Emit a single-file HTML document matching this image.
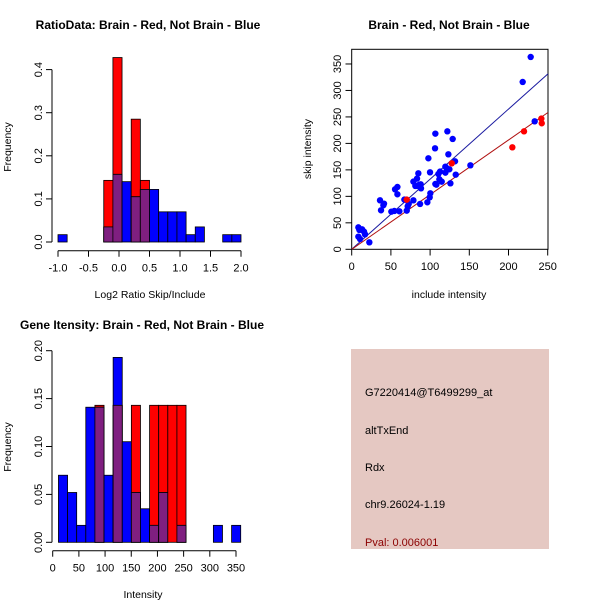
<!DOCTYPE html>
<html><head><meta charset="utf-8"><style>
html,body{margin:0;padding:0;background:#fff;}
svg{display:block;font-family:"Liberation Sans",Arial,sans-serif;}
</style></head><body>
<svg id="c" width="600" height="600" viewBox="0 0 600 600" xmlns="http://www.w3.org/2000/svg">
<rect width="600" height="600" fill="#fff"/>
<g id="p1"></g>
<g id="p2"></g>
<g id="p3"></g>
<g id="p4">
<rect x="351" y="349" width="198" height="200" fill="#e5c8c2"/>
<text x="365" y="396" font-size="11" fill="#000">G7220414@T6499299_at</text>
<text x="365" y="434" font-size="11" fill="#000">altTxEnd</text>
<text x="365" y="471" font-size="11" fill="#000">Rdx</text>
<text x="365" y="508" font-size="11" fill="#000">chr9.26024-1.19</text>
<text x="365" y="546" font-size="11" fill="#8b0000">Pval: 0.006001</text>
</g>
</svg>
<script>
// ---- Plot 1 data: RatioData histogram
const ratioBinStart = -1.0;
const ratioBinWidth = 0.15;
const ratioBlue = [0.017,0,0,0,0,0.035,0.157,0.14,0.105,0.122,0.122,0.07,0.07,0.07,0.017,0.035,0,0,0.017,0.017];
const ratioRed  = [0,0,0,0,0,0.143,0.428,0,0.285,0.143,0,0,0,0,0,0,0,0,0,0];
const ratioXTicks = [-1.0,-0.5,0.0,0.5,1.0,1.5,2.0];
const ratioXTickLabels = ["-1.0","-0.5","0.0","0.5","1.0","1.5","2.0"];
const ratioYTicks = [0,0.1,0.2,0.3,0.4];
const ratioYTickLabels = ["0.0","0.1","0.2","0.3","0.4"];
// ---- Plot 2 data: scatter
const blueInclude = [8.5,9.8,10.6,8.5,13.2,15.7,17.0,22.5,36.1,37.4,40.4,41.2,50.6,54.4,55.3,58.3,58.3,60.8,67.2,70.2,70.2,71.4,72.7,78.7,78.7,81.2,83.3,84.2,85.0,86.3,87.2,88.0,88.4,97.8,99.9,100.3,96.5,99.5,106.3,106.7,106.7,108.0,110.6,111.8,112.7,114.8,119.5,119.5,121.2,122.0,123.3,124.6,125.9,128.8,131.8,132.7,151.4,218.1,228.3,233.4];
const blueSkip = [41.5,36.5,19.5,23.9,37.8,33.4,28.3,13.2,92.5,73.7,83.1,86.2,71.1,72.4,113.3,117.7,103.9,71.8,93.8,93.2,73.0,81.2,85.6,92.5,127.8,119.6,133.5,119.6,143.5,122.1,85.6,122.8,115.2,171.9,145.4,105.8,88.8,98.2,190.7,218.4,123.4,122.1,142.3,132.2,146.7,127.8,156.1,144.8,153.0,222.8,179.4,151.1,124.6,208.4,166.2,141.0,158.6,316.0,363.2,241.7];
const redInclude = [70.2,127.6,204.9,219.8,241.9,242.4];
const redSkip = [93.8,162.4,192.6,222.8,246.8,238.0];
const fitSlopes = [1.324,1.032];
const scatterXTicks = [0,50,100,150,200,250];
const scatterYTicks = [0,50,100,150,200,250,300,350];
// ---- Plot 3 data: intensity histogram
const intBinStart = 11;
const intBinWidth = 17.4;
const intBlue = [0.07,0.052,0.0177,0.141,0.141,0.07,0.193,0.105,0.052,0.035,0.0177,0.052,0,0.0177,0,0,0,0.0177,0,0.0177];
const intRed  = [0,0,0,0,0.143,0,0.143,0,0.143,0,0.143,0.143,0.143,0.143,0,0,0,0,0,0];
const intXTicks = [0,50,100,150,200,250,300,350];
const intYTicks = [0,0.05,0.10,0.15,0.20];
const intYTickLabels = ["0.00","0.05","0.10","0.15","0.20"];

const NS="http://www.w3.org/2000/svg";
function mk(parent,tag,attrs){const e=document.createElementNS(NS,tag);for(const k in attrs)e.setAttribute(k,attrs[k]);parent.appendChild(e);return e;}
function txt(parent,x,y,s,size,opts){const e=mk(parent,'text',{x:x,y:y,'font-size':size,'text-anchor':'middle',fill:'#000'});if(opts&&opts.rot)e.setAttribute('transform','rotate(-90 '+x+' '+y+')');if(opts&&opts.bold)e.setAttribute('font-weight','bold');e.textContent=s;return e;}
const PURPLE="#7f1f80";

function histogram(g,o){
  const sx=v=>o.x0+(v-o.xv0)*o.xs, sy=v=>o.y0-v*o.ys;
  for(let i=0;i<o.blue.length;i++){
    const l=sx(o.bs+i*o.bw), r=sx(o.bs+(i+1)*o.bw);
    const b=o.blue[i], rd=o.red[i];
    if(rd>0){const e=mk(g,'rect',{x:l,y:sy(rd),width:r-l,height:sy(0)-sy(rd),fill:'#ff0000',stroke:'#000','stroke-width':0.8});
      
      }
    if(b>0){const e=mk(g,'rect',{x:l,y:sy(b),width:r-l,height:sy(0)-sy(b),fill:'#0000ff',stroke:'#000','stroke-width':0.8});
      
      }
    const m=Math.min(b,rd);
    if(m>0){const e=mk(g,'rect',{x:l,y:sy(m),width:r-l,height:sy(0)-sy(m),fill:PURPLE,stroke:'#000','stroke-width':0.8});
      
      }
  }
  const ya=mk(g,'g',{});
  
  
  mk(ya,'line',{x1:o.yax,x2:o.yax,y1:sy(o.yt[0]),y2:sy(o.yt[o.yt.length-1]),stroke:'#000'});
  o.yt.forEach((v,i)=>{mk(ya,'line',{x1:o.yax,x2:o.yax-6,y1:sy(v),y2:sy(v),stroke:'#000'});
    const t=txt(ya,o.yax-10,sy(v),o.ytl[i],11,{rot:1});
    
    });
  const xa=mk(g,'g',{});
  
  
  mk(xa,'line',{x1:sx(o.xt[0]),x2:sx(o.xt[o.xt.length-1]),y1:o.xay,y2:o.xay,stroke:'#000'});
  o.xt.forEach((v,i)=>{mk(xa,'line',{x1:sx(v),x2:sx(v),y1:o.xay,y2:o.xay+6,stroke:'#000'});
    const t=txt(xa,sx(v),o.xay+21,o.xtl[i],11);
    
    });
}

// Plot 1
const g1=document.getElementById('p1');
histogram(g1,{x0:58,xv0:-1,xs:61.0,y0:242,ys:431,bs:ratioBinStart,bw:ratioBinWidth,blue:ratioBlue,red:ratioRed,
  yt:ratioYTicks,ytl:ratioYTickLabels,yax:52,xt:ratioXTicks,xtl:ratioXTickLabels,xay:250.7});
let t=txt(g1,148,29,"RatioData: Brain - Red, Not Brain - Blue",12,{bold:1});
 
t=txt(g1,150,298,"Log2 Ratio Skip/Include",10.5);  
t=txt(g1,11,147,"Frequency",10.5,{rot:1});  

// Plot 2
const g2=document.getElementById('p2');
const X0=351.7,XS=0.784,Y0=249.3,YS=0.5295;
const px=v=>X0+v*XS, py=v=>Y0-v*YS;
const fr=mk(g2,'rect',{x:351.7,y:49.3,width:196.3,height:200,fill:'none',stroke:'#000'});
 
const lineColors=['#1a1aa0','#b01010'];
fitSlopes.forEach((s,i)=>{const xe=250.3;const e=mk(g2,'line',{x1:px(0),y1:py(0),x2:px(xe),y2:py(s*xe),stroke:lineColors[i],'stroke-width':1});
  
  });
blueInclude.forEach((v,i)=>{const c=mk(g2,'circle',{cx:px(v),cy:py(blueSkip[i]),r:3.2,fill:'#0000ff'});
  
  });
redInclude.forEach((v,i)=>{const c=mk(g2,'circle',{cx:px(v),cy:py(redSkip[i]),r:3.2,fill:'#ff0000'});
  
  });
scatterXTicks.forEach(v=>{mk(g2,'line',{x1:px(v),x2:px(v),y1:249.3,y2:255.5,stroke:'#000'});
  const t=txt(g2,px(v),270,String(v),11);
  
  });
scatterYTicks.forEach(v=>{mk(g2,'line',{x1:351.7,x2:345.5,y1:py(v),y2:py(v),stroke:'#000'});
  const t=txt(g2,341,py(v),String(v),11,{rot:1});
  
  });
t=txt(g2,449,29,"Brain - Red, Not Brain - Blue",12,{bold:1});  
t=txt(g2,449,298,"include intensity",10.5);  
t=txt(g2,311,149,"skip intensity",10.5,{rot:1});  

// Plot 3
const g3=document.getElementById('p3');
histogram(g3,{x0:52.7,xv0:0,xs:0.5237,y0:542.3,ys:958,bs:intBinStart,bw:intBinWidth,blue:intBlue,red:intRed,
  yt:intYTicks,ytl:intYTickLabels,yax:52,xt:intXTicks,xtl:intXTicks.map(String),xay:550.7});
t=txt(g3,142,329,"Gene Itensity: Brain - Red, Not Brain - Blue",12,{bold:1});  
t=txt(g3,143,598,"Intensity",10.5);  
t=txt(g3,11,447,"Frequency",10.5,{rot:1});  
</script>
</body></html>
